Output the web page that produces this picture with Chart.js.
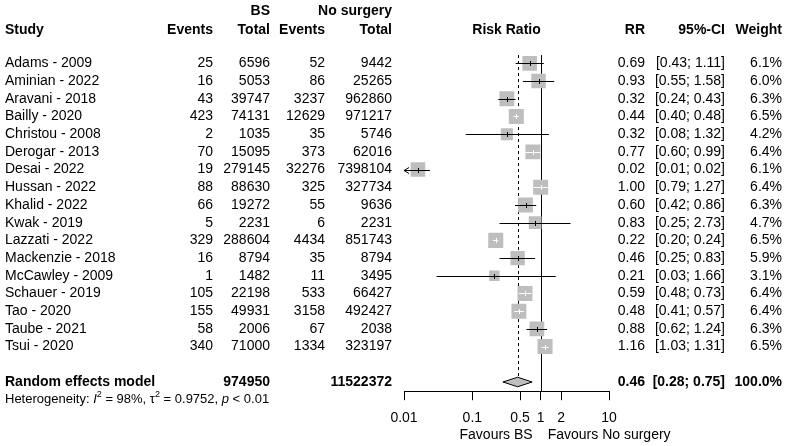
<!DOCTYPE html>
<html>
<head>
<meta charset="utf-8">
<script src="https://cdn.jsdelivr.net/npm/chart.js@4"></script>
<style>
  html, body { margin: 0; padding: 0; background: #fff; }
  #wrap { width: 789px; height: 446px; }
</style>
</head>
<body>
<div id="wrap"><canvas id="forest" width="789" height="446"></canvas></div>
<script>
// study data
const studies = ['Adams - 2009', 'Aminian - 2022', 'Aravani - 2018', 'Bailly - 2020', 'Christou - 2008',
  'Derogar - 2013', 'Desai - 2022', 'Hussan - 2022', 'Khalid - 2022', 'Kwak - 2019', 'Lazzati - 2022',
  'Mackenzie - 2018', 'McCawley - 2009', 'Schauer - 2019', 'Tao - 2020', 'Taube - 2021', 'Tsui - 2020'];
const bsEvents = [25, 16, 43, 423, 2, 70, 19, 88, 66, 5, 329, 16, 1, 105, 155, 58, 340];
const bsTotal = [6596, 5053, 39747, 74131, 1035, 15095, 279145, 88630, 19272, 2231, 288604, 8794, 1482, 22198, 49931, 2006, 71000];
const nsEvents = [52, 86, 3237, 12629, 35, 373, 32276, 325, 55, 6, 4434, 35, 11, 533, 3158, 67, 1334];
const nsTotal = [9442, 25265, 962860, 971217, 5746, 62016, 7398104, 327734, 9636, 2231, 851743, 8794, 3495, 66427, 492427, 2038, 323197];
const rr = [0.69, 0.93, 0.32, 0.44, 0.32, 0.77, 0.016, 1.00, 0.60, 0.83, 0.22, 0.46, 0.21, 0.59, 0.48, 0.88, 1.16];
const lower = [0.43, 0.55, 0.24, 0.40, 0.08, 0.60, 0.006, 0.79, 0.42, 0.25, 0.20, 0.25, 0.03, 0.48, 0.41, 0.62, 1.03];
const upper = [1.11, 1.58, 0.43, 0.48, 1.32, 0.99, 0.024, 1.27, 0.86, 2.73, 0.24, 0.83, 1.66, 0.73, 0.57, 1.24, 1.31];
const weight = [6.1, 6.0, 6.3, 6.5, 4.2, 6.4, 6.1, 6.4, 6.3, 4.7, 6.5, 5.9, 3.1, 6.4, 6.4, 6.3, 6.5];

// pooled (random effects)
const pooledBsTotal = 974950;
const pooledNsTotal = 11522372;
const pooledRR = 0.46;
const pooledLower = 0.28;
const pooledUpper = 0.75;
const heterogeneity = { i2: '98%', tau2: '0.9752', p: '< 0.01' };

const xTicks = [0.01, 0.1, 0.5, 1, 2, 10];

const FONT = '"Liberation Sans", Arial, Helvetica, sans-serif';
const GREY = '#bebebe';
const RANDOM_ROW = 18;
const HET_ROW = 19;

function txt(ctx, s, x, y, align, bold, size) {
    ctx.font = (bold ? 'bold ' : '') + (size || 14) + 'px ' + FONT;
    ctx.textAlign = align || 'left';
    ctx.textBaseline = 'middle';
    ctx.fillStyle = '#000';
    ctx.fillText(s, x, y);
}

function fmtCI(l, u) {
    return '[' + l.toFixed(2) + '; ' + u.toFixed(2) + ']';
}

const forestPlugin = {
    id: 'forest',
    beforeDatasetsDraw(chart) {
        const { ctx, scales: { x, y }, chartArea } = chart;
        const top = y.getPixelForValue(-0.47);
        ctx.save();
        ctx.strokeStyle = '#000';
        ctx.lineWidth = 1;
        // line of no effect
        ctx.beginPath();
        ctx.moveTo(Math.round(x.getPixelForValue(1)) + 0.5, top);
        ctx.lineTo(Math.round(x.getPixelForValue(1)) + 0.5, chartArea.bottom);
        ctx.stroke();
        // pooled estimate (dashed)
        ctx.setLineDash([3, 3]);
        ctx.beginPath();
        ctx.moveTo(Math.round(x.getPixelForValue(pooledRR)) + 0.5, top);
        ctx.lineTo(Math.round(x.getPixelForValue(pooledRR)) + 0.5, y.getPixelForValue(RANDOM_ROW - 0.27));
        ctx.stroke();
        ctx.restore();
    },
    afterDatasetsDraw(chart) {
        const { ctx, scales: { x, y } } = chart;
        const meta = chart.getDatasetMeta(0);
        const xmin = x.getPixelForValue(0.01);
        const xmax = x.getPixelForValue(10);
        ctx.save();
        ctx.lineWidth = 1;
        rr.forEach((v, i) => {
            const py = Math.round(y.getPixelForValue(i)) + 0.5;
            const cx = x.getPixelForValue(v);
            const half = meta.data[i].options.radius * Math.SQRT1_2;
            let l = x.getPixelForValue(lower[i]);
            let u = x.getPixelForValue(upper[i]);
            const inside = l > cx - half && u < cx + half;
            ctx.strokeStyle = inside ? '#fff' : '#000';
            const arrowL = l < xmin;
            const arrowU = u > xmax;
            l = Math.max(l, xmin);
            u = Math.min(u, xmax);
            ctx.beginPath();
            ctx.moveTo(l, py);
            ctx.lineTo(u, py);
            if (arrowL) {
                ctx.moveTo(l + 5, py - 3);
                ctx.lineTo(l, py);
                ctx.lineTo(l + 5, py + 3);
            }
            if (arrowU) {
                ctx.moveTo(u - 5, py - 3);
                ctx.lineTo(u, py);
                ctx.lineTo(u - 5, py + 3);
            }
            // estimate tick
            const tx = Math.round(cx) + 0.5;
            ctx.moveTo(tx, py - 2.5);
            ctx.lineTo(tx, py + 2.5);
            ctx.stroke();
        });
        // diamond for the pooled estimate
        const dy = y.getPixelForValue(RANDOM_ROW);
        const dh = y.getPixelForValue(RANDOM_ROW + 0.27) - dy;
        ctx.beginPath();
        ctx.moveTo(x.getPixelForValue(pooledLower), dy);
        ctx.lineTo(x.getPixelForValue(pooledRR), dy - dh);
        ctx.lineTo(x.getPixelForValue(pooledUpper), dy);
        ctx.lineTo(x.getPixelForValue(pooledRR), dy + dh);
        ctx.closePath();
        ctx.fillStyle = GREY;
        ctx.fill();
        ctx.strokeStyle = '#000';
        ctx.stroke();
        ctx.restore();
    },
    afterDraw(chart) {
        const { ctx, scales: { x, y }, chartArea } = chart;
        const midX = (chartArea.left + chartArea.right) / 2;
        ctx.save();
        // headers
        const h1 = y.getPixelForValue(-2.96);
        const h2 = y.getPixelForValue(-1.9);
        txt(ctx, 'BS', 270, h1, 'right', true);
        txt(ctx, 'No surgery', 392, h1, 'right', true);
        txt(ctx, 'Study', 5, h2, 'left', true);
        txt(ctx, 'Events', 213, h2, 'right', true);
        txt(ctx, 'Total', 270, h2, 'right', true);
        txt(ctx, 'Events', 325, h2, 'right', true);
        txt(ctx, 'Total', 392, h2, 'right', true);
        txt(ctx, 'Risk Ratio', midX, h2, 'center', true);
        txt(ctx, 'RR', 645, h2, 'right', true);
        txt(ctx, '95%-CI', 725, h2, 'right', true);
        txt(ctx, 'Weight', 782, h2, 'right', true);
        // study rows
        studies.forEach((s, i) => {
            const py = y.getPixelForValue(i);
            txt(ctx, s, 5, py, 'left');
            txt(ctx, String(bsEvents[i]), 213, py, 'right');
            txt(ctx, String(bsTotal[i]), 270, py, 'right');
            txt(ctx, String(nsEvents[i]), 325, py, 'right');
            txt(ctx, String(nsTotal[i]), 392, py, 'right');
            txt(ctx, rr[i].toFixed(2), 645, py, 'right');
            txt(ctx, fmtCI(lower[i], upper[i]), 725, py, 'right');
            txt(ctx, weight[i].toFixed(1) + '%', 782, py, 'right');
        });
        // pooled row
        const pr = y.getPixelForValue(RANDOM_ROW);
        txt(ctx, 'Random effects model', 5, pr, 'left', true);
        txt(ctx, String(pooledBsTotal), 270, pr, 'right', true);
        txt(ctx, String(pooledNsTotal), 392, pr, 'right', true);
        txt(ctx, pooledRR.toFixed(2), 645, pr, 'right', true);
        txt(ctx, fmtCI(pooledLower, pooledUpper), 725, pr, 'right', true);
        txt(ctx, '100.0%', 782, pr, 'right', true);
        // heterogeneity line with superscripts
        const hy = y.getPixelForValue(HET_ROW);
        let hx = 5;
        const part = (s, opt) => {
            opt = opt || {};
            const size = opt.sup ? 9 : 13;
            ctx.font = (opt.italic ? 'italic ' : '') + size + 'px ' + FONT;
            ctx.textAlign = 'left';
            ctx.textBaseline = 'middle';
            ctx.fillStyle = '#000';
            ctx.fillText(s, hx, opt.sup ? hy - 5 : hy);
            hx += ctx.measureText(s).width;
        };
        part('Heterogeneity: ');
        part('I', { italic: true });
        part('2', { sup: true });
        part(' = ' + heterogeneity.i2 + ', \u03C4');
        part('2', { sup: true });
        part(' = ' + heterogeneity.tau2 + ', ');
        part('p', { italic: true });
        part(' ' + heterogeneity.p);
        // favours labels
        const fy = y.getPixelForValue(21.0);
        const one = x.getPixelForValue(1);
        txt(ctx, 'Favours BS', one - 8, fy, 'right');
        txt(ctx, 'Favours No surgery', one + 7, fy, 'left');
        ctx.restore();
    }
};

Chart.defaults.font.family = FONT;
const ctx = document.getElementById('forest').getContext('2d');
const chart = new Chart(ctx, {
    type: 'scatter',
    data: {
        datasets: [{
            data: rr.map((v, i) => ({ x: v, y: i })),
            pointStyle: 'rect',
            pointRadius: weight.map(w => 5.9 * Math.sqrt(w) / Math.SQRT2),
            backgroundColor: GREY,
            borderWidth: 0
        }]
    },
    options: {
        responsive: false,
        animation: false,
        events: [],
        layout: { autoPadding: false, padding: { left: 404, right: 180, top: 0, bottom: 9 } },
        plugins: { legend: { display: false }, tooltip: { enabled: false } },
        scales: {
            x: {
                type: 'logarithmic',
                min: 0.01,
                max: 10,
                afterBuildTicks: scale => { scale.ticks = xTicks.map(v => ({ value: v })); },
                ticks: {
                    autoSkip: false,
                    maxRotation: 0,
                    padding: 10,
                    color: '#000',
                    font: { size: 14 },
                    callback: v => String(v)
                },
                grid: { drawOnChartArea: false, drawTicks: true, tickLength: 9, color: '#000' },
                border: { display: true, color: '#000' }
            },
            y: { type: 'linear', reverse: true, min: -3.58, max: 18.52, display: false }
        }
    },
    plugins: [forestPlugin]
});
</script>
</body>
</html>
